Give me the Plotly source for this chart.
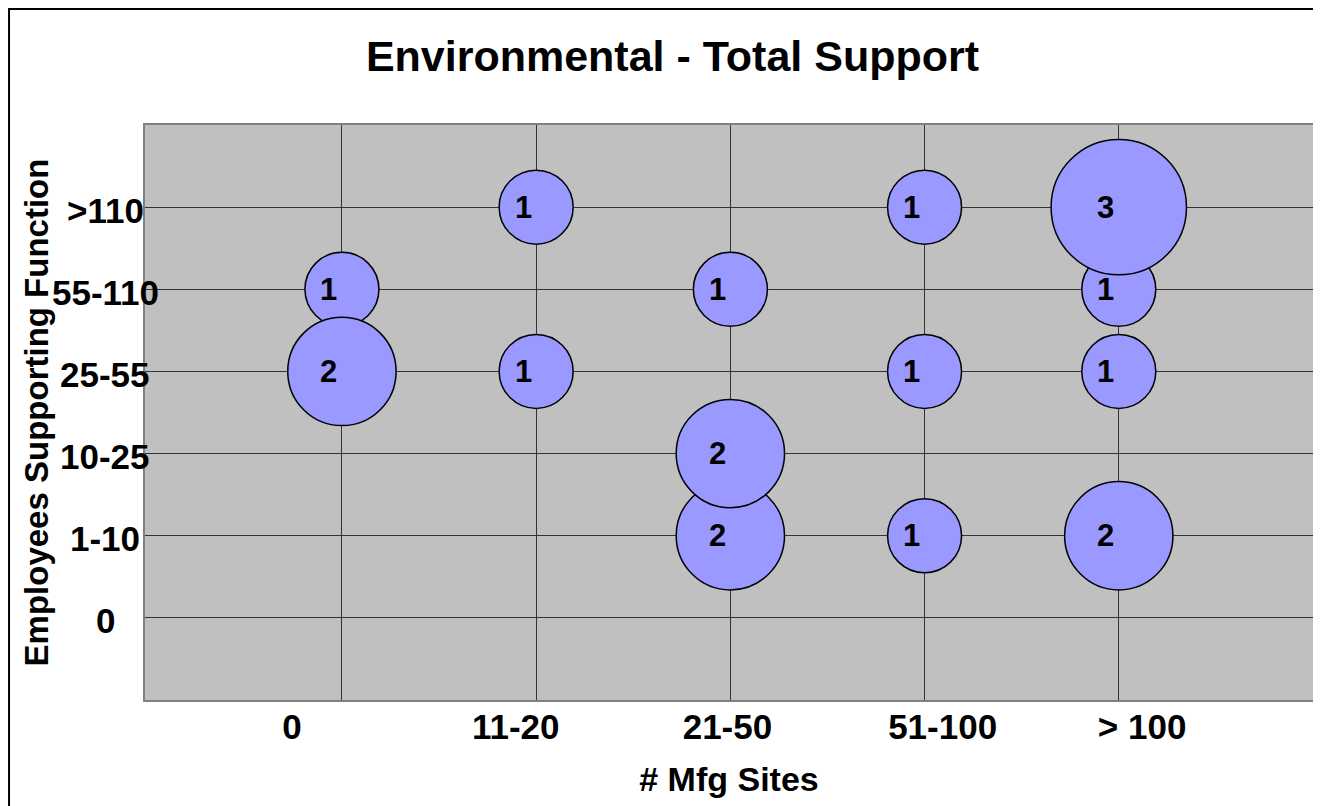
import plotly.graph_objects as go

# categories
site_labels = ["0", "11-20", "21-50", "51-100", "> 100"]
employee_labels = ["0", "1-10", "10-25", "25-55", "55-110", ">110"]

# responses (drawn in this order: small bubbles first, larger ones on top)
site_cat = ["0", "11-20", "11-20", "21-50", "51-100", "51-100", "51-100",
            "> 100", "> 100", "21-50", "> 100", "21-50", "0", "> 100"]
emp_cat = ["55-110", ">110", "25-55", "55-110", ">110", "25-55", "1-10",
           "55-110", "25-55", "1-10", "1-10", "10-25", "25-55", ">110"]
counts = [1, 1, 1, 1, 1, 1, 1, 1, 1, 2, 2, 2, 2, 3]

FONT = "Liberation Sans, Arial, sans-serif"

x_pos = {lab: i + 1 for i, lab in enumerate(site_labels)}
y_pos = {lab: i + 1 for i, lab in enumerate(employee_labels)}
xs = [x_pos[s] for s in site_cat]
ys = [y_pos[e] for e in emp_cat]
sizes = [74 * c ** 0.55 for c in counts]

fig = go.Figure(go.Scatter(
    x=xs, y=ys, mode="markers",
    marker=dict(size=sizes, sizemode="diameter", color="#9999ff",
                line=dict(color="black", width=1.5), opacity=1),
    hoverinfo="skip", showlegend=False,
))

# bubble labels (Excel puts them a bit left of centre)
for x, y, c in zip(xs, ys, counts):
    fig.add_annotation(x=x, y=y, text=f"<b>{c}</b>", showarrow=False,
                       xshift=-13, font=dict(family=FONT, size=31, color="black"))

# y category labels, centred in the left margin
for lab in employee_labels:
    fig.add_annotation(x=-0.034, xref="paper", y=y_pos[lab], yref="y",
                       text=f"<b>{lab}</b>", showarrow=False, xanchor="center",
                       yshift=-3, font=dict(family=FONT, size=35, color="black"))

# outer chart frame (page has an 8px body margin, so layout is shifted by that)
fig.add_shape(type="rect", xref="paper", yref="paper",
              x0=-0.1164, x1=1.021, y0=-0.223, y1=1.2017,
              line=dict(color="black", width=2), fillcolor="rgba(0,0,0,0)",
              layer="below")

fig.update_layout(
    width=1321, height=806,
    margin=dict(l=137, r=16, t=117, b=114),
    paper_bgcolor="white", plot_bgcolor="#c0c0c0",
    font=dict(family=FONT, color="black"),
    title=dict(text="<b>Environmental - Total Support</b>", x=0.503, xanchor="center",
               y=0.9404, yanchor="middle", font=dict(size=43)),
    xaxis=dict(
        range=[-0.014, 6.0], automargin=False,
        tickmode="array", tickvals=[0.743, 1.895, 2.985, 4.093, 5.12],
        ticktext=[f"<b>{s}</b>" for s in site_labels],
        tickfont=dict(size=35), ticks="", ticklabelstandoff=-5,
        showgrid=False, zeroline=False,
        minor=dict(tickmode="array", tickvals=list(x_pos.values()),
                   showgrid=True, gridcolor="#333333", gridwidth=1, ticks=""),
        showline=True, linecolor="#808080", linewidth=2, mirror=True,
        title=dict(text="<b># Mfg Sites</b>", font=dict(size=34), standoff=22),
    ),
    yaxis=dict(
        range=[0, 7], automargin=False,
        tickmode="array", tickvals=list(y_pos.values()),
        showticklabels=False, ticks="",
        showgrid=True, gridcolor="#333333", gridwidth=1, zeroline=False,
        showline=True, linecolor="#808080", linewidth=2, mirror=True,
        title=dict(text="<b>Employees Supporting Function</b>", font=dict(size=33),
                   standoff=84),
    ),
)

fig.write_html("out.html")
